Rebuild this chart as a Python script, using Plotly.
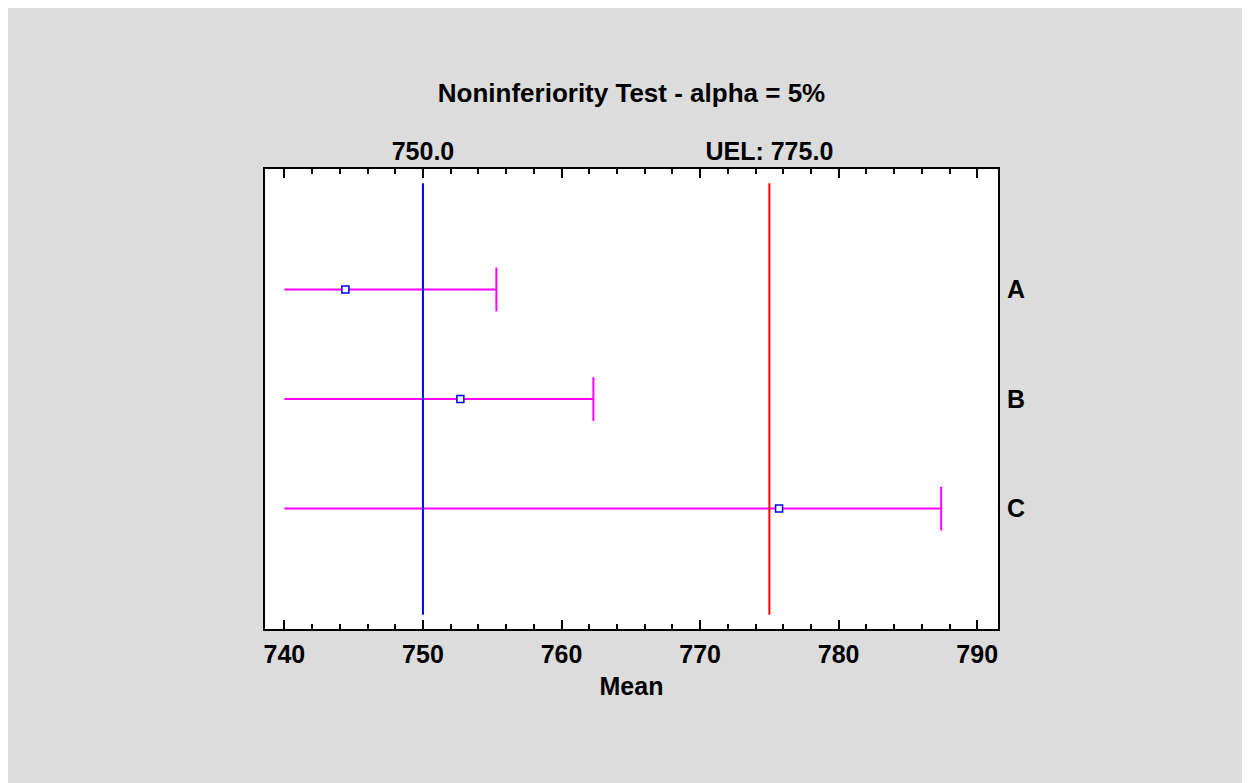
import plotly.graph_objects as go

# ---- data ----
groups = ["A", "B", "C"]
means = [744.4, 752.7, 775.7]
lower = [740.0, 740.0, 740.0]
upper = [755.3, 762.3, 787.4]
reference_value = 750.0
uel_value = 775.0
top_tick_values = [750.0, 775.0]
top_tick_labels = ["750.0", "UEL: 775.0"]
x_tick_values = [740, 750, 760, 770, 780, 790]
title_text = "Noninferiority Test - alpha = 5%"
x_title = "Mean"

# page is offset by the 8px body margin; figure sized to fill the rest of the window
W, H = 1242, 775
L, R, T, B = 257, 990, 161, 621
FONT = "Arial, Liberation Sans, Helvetica, sans-serif"

n = len(groups)
ypos = [n - i for i in range(n)]  # A at top
cap = 0.2

fig = go.Figure()

# interval lines
xs, ys = [], []
for lo, up, y in zip(lower, upper, ypos):
    xs += [lo, up, None, up, up, None]
    ys += [y, y, None, y - cap, y + cap, None]
fig.add_trace(go.Scatter(x=xs, y=ys, mode="lines",
                         line=dict(color="#FF00FF", width=2),
                         hoverinfo="skip", showlegend=False))

# reference lines
fig.add_trace(go.Scatter(x=[reference_value, reference_value], y=[0.03, 3.97], mode="lines",
                         line=dict(color="#0000FF", width=2), showlegend=False, hoverinfo="skip"))
fig.add_trace(go.Scatter(x=[uel_value, uel_value], y=[0.03, 3.97], mode="lines",
                         line=dict(color="#FF0000", width=2), showlegend=False, hoverinfo="skip"))

# means
fig.add_trace(go.Scatter(x=means, y=ypos, mode="markers",
                         marker=dict(symbol="square", size=7, color="white",
                                     line=dict(color="#0000FF", width=1.5)),
                         showlegend=False))

# dummy trace for top axis
fig.add_trace(go.Scatter(x=[reference_value], y=[2], xaxis="x2", mode="markers",
                         marker=dict(opacity=0), showlegend=False, hoverinfo="skip"))

xr = [738.6, 791.5]
fig.update_layout(
    width=W, height=H,
    margin=dict(l=L, r=W - R, t=T, b=H - B, pad=0),
    paper_bgcolor="#DCDCDC",
    plot_bgcolor="white",
    title=dict(text=title_text, x=(L + R) / 2 / W,
               xref="container", xanchor="center",
               y=1 - 84.5 / H, yref="container", yanchor="middle",
               font=dict(family=FONT, size=26, color="black", weight="bold")),
    xaxis=dict(range=xr, tickvals=x_tick_values, ticks="inside", ticklen=9, tickwidth=2,
               tickcolor="black", showline=True, linecolor="black", linewidth=2,
               mirror="ticks", showgrid=False, zeroline=False, ticklabelstandoff=2,
               minor=dict(dtick=2, ticks="inside", ticklen=5, tickwidth=1.5, tickcolor="black"),
               tickfont=dict(family=FONT, size=25, color="black", weight="bold"),
               title=dict(text=x_title, standoff=10,
                          font=dict(family=FONT, size=25, color="black", weight="bold"))),
    xaxis2=dict(range=xr, overlaying="x", side="top", tickvals=top_tick_values,
                ticktext=top_tick_labels, ticks="", showline=False, showgrid=False,
                zeroline=False, ticklabelstandoff=3,
                tickfont=dict(family=FONT, size=25, color="black", weight="bold")),
    yaxis=dict(range=[-0.1, 4.1], tickvals=ypos, ticktext=groups, side="right",
               ticks="", showline=True, linecolor="black", linewidth=2, mirror=True,
               showgrid=False, zeroline=False, ticklabelstandoff=2,
               tickfont=dict(family=FONT, size=25, color="black", weight="bold")),
)

fig.write_html("out.html", post_script="document.documentElement.style.overflow='hidden';")
